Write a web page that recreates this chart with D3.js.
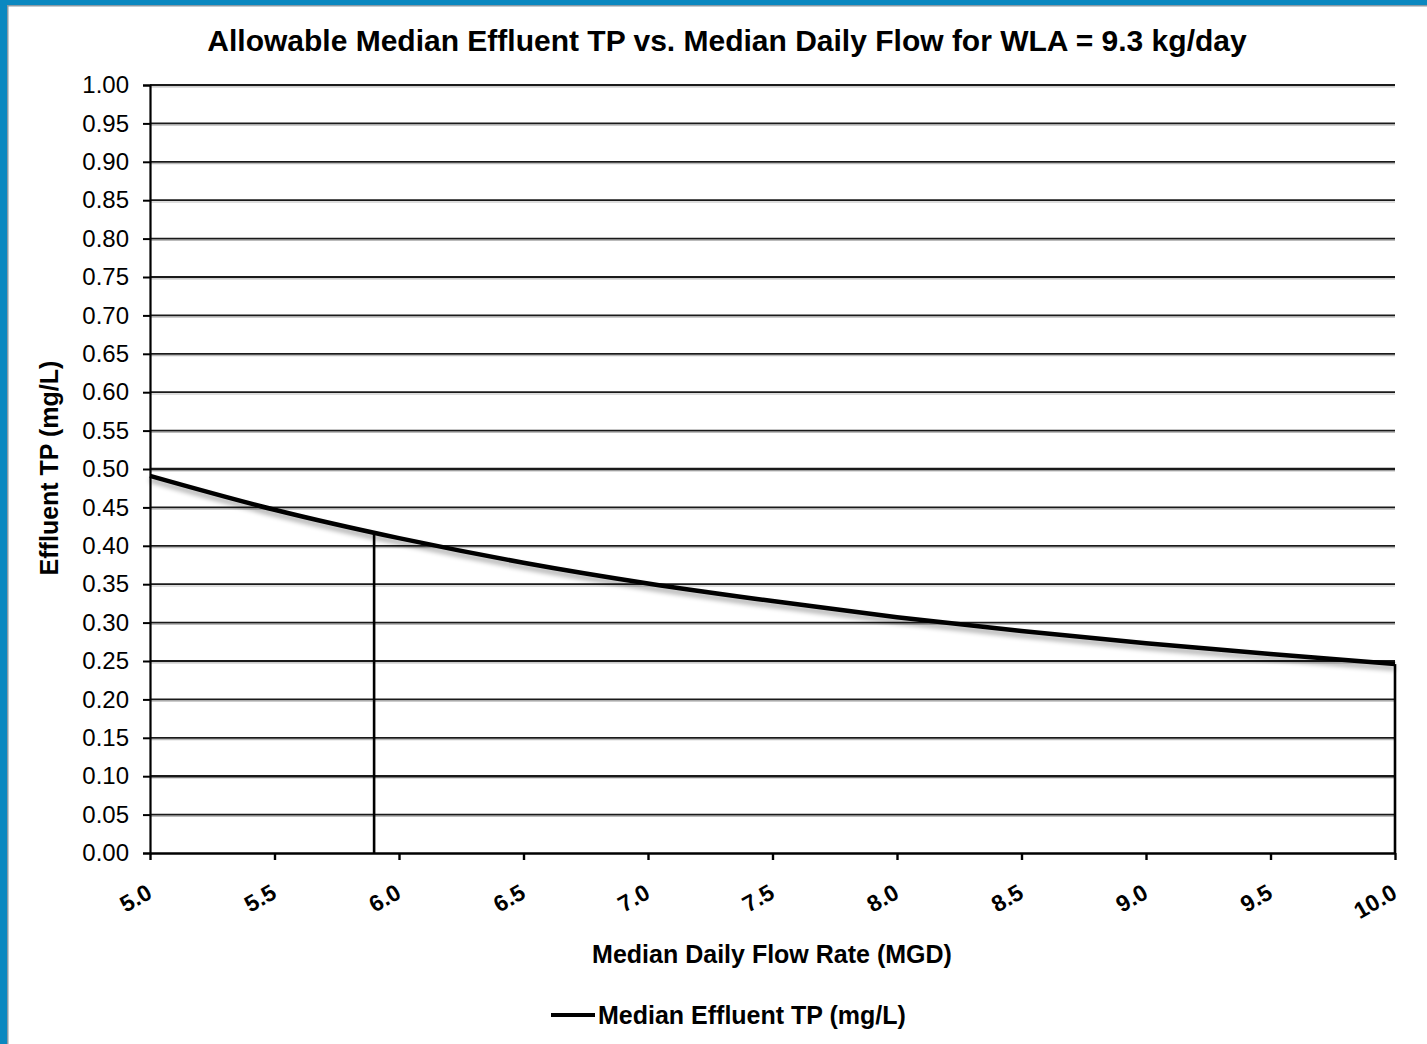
<!DOCTYPE html>
<html><head><meta charset="utf-8">
<script src="https://cdn.jsdelivr.net/npm/d3@7"></script>
<style>
html,body{margin:0;padding:0;background:#fff;}
svg{display:block;font-family:"Liberation Sans",Arial,sans-serif;}
</style></head>
<body>
<script>
const titleText = "Allowable Median Effluent TP vs. Median Daily Flow for WLA = 9.3 kg/day";
const xTitle = "Median Daily Flow Rate (MGD)";
const yTitle = "Effluent TP (mg/L)";
const seriesName = "Median Effluent TP (mg/L)";
const flow = [5.0, 5.5, 6.0, 6.5, 7.0, 7.5, 8.0, 8.5, 9.0, 9.5, 10.0];
const tp   = [0.491, 0.447, 0.410, 0.378, 0.351, 0.328, 0.307, 0.289, 0.273, 0.259, 0.246];
const dropX = [5.9, 10.0];
const dropY = [0.416, 0.246];
const xTicks = [5.0, 5.5, 6.0, 6.5, 7.0, 7.5, 8.0, 8.5, 9.0, 9.5, 10.0];
const yTicks = d3.range(0, 21).map(i => i * 0.05);

const W = 1427, H = 1044;
const svg = d3.select("body").append("svg").attr("width", W).attr("height", H);

// frame
svg.append("rect").attr("x",0).attr("y",0).attr("width",W).attr("height",H).attr("fill","#fff");
svg.append("rect").attr("x",0).attr("y",0).attr("width",W).attr("height",5).attr("fill","#0a88c0");
svg.append("rect").attr("x",0).attr("y",0).attr("width",7).attr("height",H).attr("fill","#0a88c0");
svg.append("rect").attr("x",7).attr("y",5).attr("width",W-7).attr("height",1.5).attr("fill","#8a9aa4");
svg.append("rect").attr("x",7).attr("y",5).attr("width",1.5).attr("height",H-5).attr("fill","#8a9aa4");

const x = d3.scaleLinear().domain([5, 10]).range([150, 1395]);
const y = d3.scaleLinear().domain([0, 1]).range([853, 85]);

const defs = svg.append("defs");
const f = defs.append("filter").attr("id","sh").attr("filterUnits","userSpaceOnUse")
  .attr("x",0).attr("y",0).attr("width",W).attr("height",H);
f.append("feGaussianBlur").attr("in","SourceAlpha").attr("stdDeviation",2.5).attr("result","b");
f.append("feOffset").attr("in","b").attr("dx",0).attr("dy",4).attr("result","o");
f.append("feComponentTransfer").attr("in","o").attr("result","o2").append("feFuncA").attr("type","linear").attr("slope",0.35);
const m = f.append("feMerge"); m.append("feMergeNode").attr("in","o2"); m.append("feMergeNode").attr("in","SourceGraphic");

// gridlines (with faint shadow line below)
const gridVals = yTicks.filter(d => d > 0);
const gg = svg.append("g");
gg.selectAll("line.shadow").data(gridVals).join("line").attr("class","shadow")
  .attr("x1", 150).attr("x2", 1395)
  .attr("y1", d => y(d) + 1.8).attr("y2", d => y(d) + 1.8)
  .attr("stroke", "#bbb").attr("stroke-width", 1.2);
gg.selectAll("line.grid").data(gridVals).join("line").attr("class","grid")
  .attr("x1", 150).attr("x2", 1395)
  .attr("y1", d => y(d)).attr("y2", d => y(d))
  .attr("stroke", "#1a1a1a").attr("stroke-width", d => (Math.abs(d-0.5)<1e-6||Math.abs(d-0.1)<1e-6) ? 2.4 : 1.8);

// y axis
const ya = svg.append("g").attr("transform","translate(150,0)")
  .call(d3.axisLeft(y).tickValues(yTicks).tickFormat(d3.format(".2f")).tickSize(7).tickPadding(14));
ya.select(".domain").attr("stroke","#000").attr("stroke-width",2.2);
ya.selectAll(".tick line").attr("stroke","#000").attr("stroke-width",2);
ya.selectAll(".tick text").attr("font-size",24).attr("fill","#000").attr("font-family","Liberation Sans, Arial, sans-serif");

// x axis
const xa = svg.append("g").attr("transform","translate(0,853)")
  .call(d3.axisBottom(x).tickValues(xTicks).tickFormat(d3.format(".1f")).tickSize(7).tickSizeOuter(0));
xa.select(".domain").attr("stroke","#000").attr("stroke-width",2.4);
xa.selectAll(".tick line").attr("stroke","#000").attr("stroke-width",2.4);
xa.selectAll(".tick text")
  .attr("font-size",23).attr("font-weight","bold").attr("fill","#000")
  .attr("font-family","Liberation Sans, Arial, sans-serif")
  .attr("text-anchor","end").attr("y",0).attr("dy",0)
  .attr("transform","translate(3,44) rotate(-30)");

// drop lines
svg.append("g").selectAll("line").data(dropX).join("line")
  .attr("x1", d => x(d)).attr("x2", d => x(d))
  .attr("y1", (d,i) => y(dropY[i])).attr("y2", y(0))
  .attr("stroke","#000").attr("stroke-width",2.6);

// curve
const line = d3.line().x((d,i) => x(flow[i])).y(d => y(d)).curve(d3.curveMonotoneX);
svg.append("path").datum(tp).attr("d", line)
  .attr("fill","none").attr("stroke","#000").attr("stroke-width",4.5).attr("filter","url(#sh)");

// titles
svg.append("text").attr("x",727).attr("y",51).attr("text-anchor","middle")
  .attr("font-size",30).attr("font-weight","bold").text(titleText);
svg.append("text").attr("x",772).attr("y",963).attr("text-anchor","middle")
  .attr("font-size",25).attr("font-weight","bold").text(xTitle);
svg.append("text").attr("transform","translate(58,468) rotate(-90)").attr("text-anchor","middle")
  .attr("font-size",25).attr("font-weight","bold").text(yTitle);

// legend
svg.append("line").attr("x1",551).attr("x2",595).attr("y1",1015).attr("y2",1015)
  .attr("stroke","#000").attr("stroke-width",4);
svg.append("text").attr("x",598).attr("y",1024).attr("font-size",25).attr("font-weight","bold").text(seriesName);
</script>
</body></html>
